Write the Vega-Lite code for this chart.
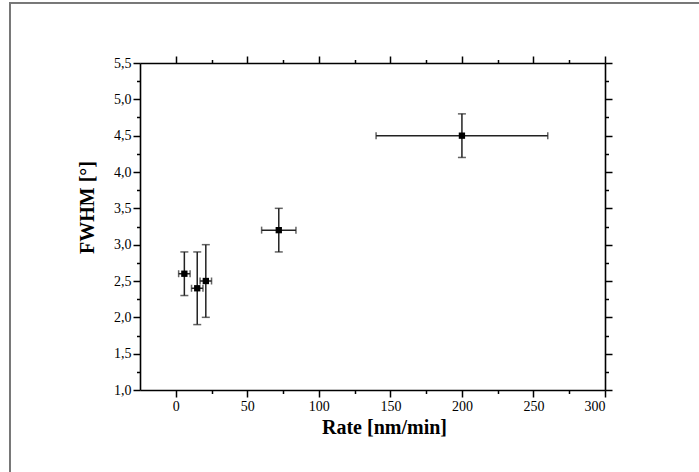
{
  "$schema": "https://vega.github.io/schema/vega-lite/v6.json",
  "width": 465,
  "height": 327,
  "autosize": "none",
  "padding": {"left": 140, "top": 63, "right": 94, "bottom": 82},
  "background": "white",
  "config": {
    "view": {"stroke": null},
    "font": "Liberation Serif",
    "axis": {
      "grid": false,
      "domainColor": "#000",
      "domainWidth": 1.6,
      "tickColor": "#000",
      "tickWidth": 1.5,
      "labelFont": "Liberation Serif",
      "labelFontSize": 14,
      "labelColor": "#000",
      "titleFont": "Liberation Serif",
      "titleFontSize": 20,
      "titleFontWeight": "bold",
      "titleColor": "#000"
    }
  },
  "data": {
    "values": [
      {"rate": 6, "fwhm": 2.6, "rate_lo": 2, "rate_hi": 10, "fwhm_lo": 2.3, "fwhm_hi": 2.9},
      {"rate": 15, "fwhm": 2.4, "rate_lo": 11, "rate_hi": 19, "fwhm_lo": 1.9, "fwhm_hi": 2.9},
      {"rate": 21, "fwhm": 2.5, "rate_lo": 17, "rate_hi": 25, "fwhm_lo": 2.0, "fwhm_hi": 3.0},
      {"rate": 72, "fwhm": 3.2, "rate_lo": 60, "rate_hi": 84, "fwhm_lo": 2.9, "fwhm_hi": 3.5},
      {"rate": 200, "fwhm": 4.5, "rate_lo": 140, "rate_hi": 260, "fwhm_lo": 4.2, "fwhm_hi": 4.8}
    ]
  },
  "layer": [
    {
      "mark": {"type": "rect", "fill": null, "stroke": "#777", "strokeWidth": 1.5, "clip": false},
      "encoding": {
        "x": {"datum": -116, "type": "quantitative", "scale": {"domain": [-25, 300], "nice": false, "zero": false}, "axis": null},
        "x2": {"datum": 420},
        "y": {"datum": 6.33, "type": "quantitative", "scale": {"domain": [1, 5.5], "nice": false, "zero": false}, "axis": null},
        "y2": {"datum": -1}
      }
    },
    {
      "mark": {"type": "rule", "color": "#222", "strokeWidth": 1.5},
      "encoding": {
        "x": {
          "field": "rate", "type": "quantitative",
          "scale": {"domain": [-25, 300], "nice": false, "zero": false},
          "axis": {
            "orient": "bottom",
            "title": "Rate [nm/min]",
            "values": [0, 25, 50, 75, 100, 125, 150, 175, 200, 225, 250, 275, 300],
            "tickSize": {"condition": {"test": "datum.value % 50 === 0", "value": 7}, "value": 3.5},
            "labelExpr": "datum.value % 50 === 0 ? datum.label : ''",
            "labelPadding": 2,
            "titleX": 244,
            "titleY": 43,
            "titleAlign": "center",
            "titleBaseline": "alphabetic"
          }
        },
        "y": {
          "field": "fwhm_lo", "type": "quantitative",
          "scale": {"domain": [1, 5.5], "nice": false, "zero": false},
          "axis": {
            "orient": "left",
            "title": "FWHM [°]",
            "values": [1, 1.25, 1.5, 1.75, 2, 2.25, 2.5, 2.75, 3, 3.25, 3.5, 3.75, 4, 4.25, 4.5, 4.75, 5, 5.25, 5.5],
            "tickSize": {"condition": {"test": "abs(datum.value*2 - round(datum.value*2)) < 0.001", "value": 7}, "value": 3.5},
            "labelExpr": "abs(datum.value*2 - round(datum.value*2)) < 0.001 ? replace(format(datum.value, '.1f'), '.', ',') : ''",
            "labelPadding": 2,
            "titleAngle": -90,
            "titleX": -53,
            "titleY": 144,
            "titleAlign": "center",
            "titleBaseline": "middle"
          }
        },
        "y2": {"field": "fwhm_hi"}
      }
    },
    {
      "mark": {"type": "tick", "orient": "horizontal", "color": "#222", "size": 8, "thickness": 1.5},
      "encoding": {
        "x": {"field": "rate", "type": "quantitative", "axis": null},
        "y": {"field": "fwhm_lo", "type": "quantitative", "axis": null}
      }
    },
    {
      "mark": {"type": "tick", "orient": "horizontal", "color": "#222", "size": 8, "thickness": 1.5},
      "encoding": {
        "x": {"field": "rate", "type": "quantitative", "axis": null},
        "y": {"field": "fwhm_hi", "type": "quantitative", "axis": null}
      }
    },
    {
      "mark": {"type": "rule", "color": "#222", "strokeWidth": 1.5},
      "encoding": {
        "x": {"field": "rate_lo", "type": "quantitative", "axis": null},
        "x2": {"field": "rate_hi"},
        "y": {"field": "fwhm", "type": "quantitative", "axis": null}
      }
    },
    {
      "mark": {"type": "tick", "orient": "vertical", "color": "#222", "size": 7, "thickness": 1.5},
      "encoding": {
        "x": {"field": "rate_lo", "type": "quantitative", "axis": null},
        "y": {"field": "fwhm", "type": "quantitative", "axis": null}
      }
    },
    {
      "mark": {"type": "tick", "orient": "vertical", "color": "#222", "size": 7, "thickness": 1.5},
      "encoding": {
        "x": {"field": "rate_hi", "type": "quantitative", "axis": null},
        "y": {"field": "fwhm", "type": "quantitative", "axis": null}
      }
    },
    {
      "mark": {"type": "point", "shape": "square", "filled": true, "color": "#000", "size": 40, "opacity": 1},
      "encoding": {
        "x": {
          "field": "rate", "type": "quantitative",
          "axis": {
            "orient": "top",
            "title": null,
            "labels": false,
            "values": [0, 25, 50, 75, 100, 125, 150, 175, 200, 225, 250, 275, 300],
            "tickSize": {"condition": {"test": "datum.value % 50 === 0", "value": 7}, "value": 3.5}
          }
        },
        "y": {
          "field": "fwhm", "type": "quantitative",
          "axis": {
            "orient": "right",
            "title": null,
            "labels": false,
            "values": [1, 1.25, 1.5, 1.75, 2, 2.25, 2.5, 2.75, 3, 3.25, 3.5, 3.75, 4, 4.25, 4.5, 4.75, 5, 5.25, 5.5],
            "tickSize": {"condition": {"test": "abs(datum.value*2 - round(datum.value*2)) < 0.001", "value": 7}, "value": 3.5}
          }
        }
      }
    }
  ],
  "resolve": {"axis": {"x": "independent", "y": "independent"}}
}
